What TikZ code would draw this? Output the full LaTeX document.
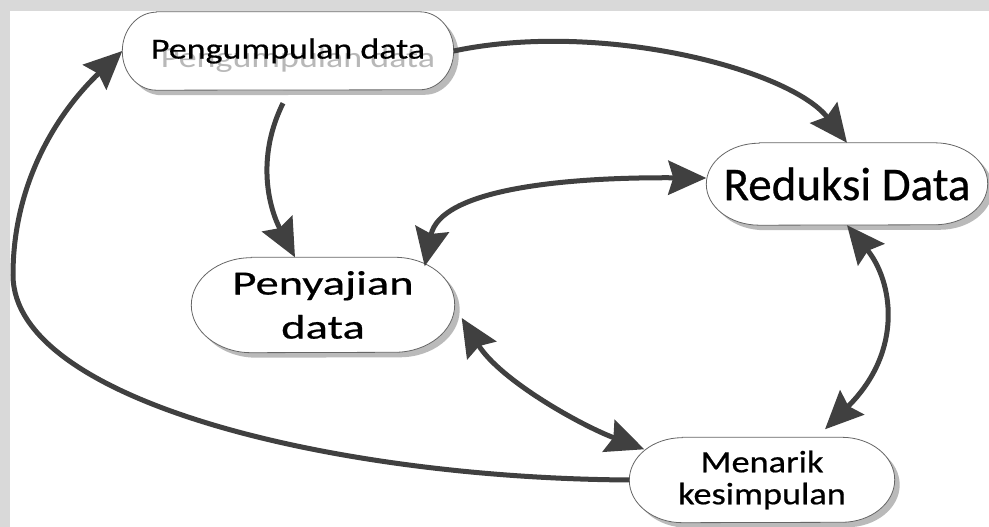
\documentclass[tikz,border=0pt]{standalone}
\usepackage{fontspec}
\newfontfamily\fpd[FakeStretch=1.24,FakeBold=0.6]{Carlito}
\newfontfamily\fpdg[FakeStretch=1.24]{Carlito}
\newfontfamily\frd[FakeBold=0.6]{Carlito}
\newfontfamily\fps[FakeStretch=1.37,FakeBold=0.6]{Carlito}
\newfontfamily\fmk[FakeStretch=1.17,FakeBold=0.6]{Carlito}
\usetikzlibrary{arrows.meta,shadows,backgrounds}
\definecolor{arrowgray}{HTML}{404040}
\definecolor{framegray}{HTML}{D9D9D9}
\newcommand\stadiumbox[3]{%
  \path[stad] ([xshift=#2]#1.north west) -- ([xshift=-#2]#1.north east)
    arc[start angle=90,end angle=-90,x radius=#2,y radius=#3]
    -- ([xshift=#2]#1.south west)
    arc[start angle=270,end angle=90,x radius=#2,y radius=#3] -- cycle;}
\tikzset{
  box/.style={rectangle, inner sep=0pt, align=center, text=black},
  stad/.style={draw=black!60, line width=0.8pt, fill=white,
    drop shadow={shadow xshift=5pt, shadow yshift=-5pt, fill=black!27, opacity=1}},
  conn/.style={draw=arrowgray, line width=5pt},
  >={Stealth[length=38pt,width=34pt,inset=5pt,fill=arrowgray]}
}
\begin{document}
\begin{tikzpicture}[x=1pt,y=1pt]
\useasboundingbox (0,0) rectangle (989,527);
% nodes
\node[box, minimum width=331pt, minimum height=78pt,
  font=\fpd\fontsize{29}{35}\selectfont] (pd) at (288,476) {Pengumpulan data};
\node[box, minimum width=281pt, minimum height=82pt,
  font=\frd\fontsize{47}{52}\selectfont] (rd) at (847,343) {Reduksi Data};
\node[box, minimum width=263pt, minimum height=95pt,
  font=\fps\fontsize{34}{44}\selectfont] (ps) at (323,222) {Penyajian\\data};
\node[box, minimum width=265pt, minimum height=85pt,
  font=\fmk\fontsize{31}{32}\selectfont] (mk) at (762,47) {Menarik\\kesimpulan};
% background
\begin{scope}[on background layer]
  \fill[framegray] (0,0) rectangle (989,527);
  \fill[white] (10,0) rectangle (989,516);
  \stadiumbox{pd}{34pt}{39pt}
  \stadiumbox{rd}{53pt}{41pt}
  \stadiumbox{ps}{60pt}{47.5pt}
  \stadiumbox{mk}{53pt}{42.5pt}
  \node[font=\fpdg\fontsize{29}{35}\selectfont, text=black!28, inner sep=0pt]
    (pdg) at ([xshift=10pt,yshift=-9pt]pd.center) {Pengumpulan data};
\end{scope}
% connectors
\draw[conn,->] (pd.east) .. controls (600,507) and (790,458) .. (rd.north);
\draw[conn,->] ([xshift=-5pt,yshift=-13pt]pd.south) .. controls (255,367) and (270,317) .. ([xshift=-28pt]ps.north);
\draw[conn,<->] ([xshift=-30pt,yshift=-9pt]ps.north east) .. controls (440,337) and (560,350) .. ([yshift=6pt]rd.west);
\draw[conn,<->] ([xshift=7pt,yshift=-13pt]ps.east) .. controls (500,147) and (580,102) .. ([xshift=15pt,yshift=-12pt]mk.north west);
\draw[conn,<->] (rd.south) .. controls (892,247) and (905,177) .. ([xshift=63pt,yshift=8pt]mk.north);
\draw[conn,->] (mk.west) .. controls (330,49) and (13,127) .. (13,252)
  .. controls (13,347) and (60,417) .. (pd.west);
\end{tikzpicture}
\end{document}
